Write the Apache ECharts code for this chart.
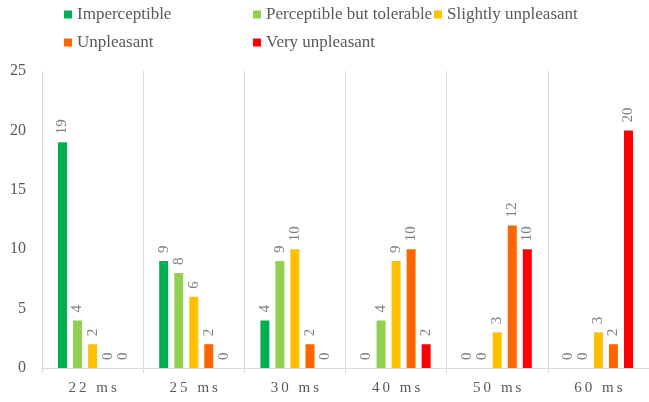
<!DOCTYPE html>
<html>
<head>
<meta charset="utf-8">
<script src="https://cdn.jsdelivr.net/npm/echarts@6/dist/echarts.min.js"></script>
<style>
  html, body { margin: 0; padding: 0; background: #fff; }
  #chart { width: 649px; height: 402px; }
</style>
</head>
<body>
<div id="chart"></div>
<script>
// Delay categories and rating counts per category
const categories = ['22 ms', '25 ms', '30 ms', '40 ms', '50 ms', '60 ms'];
const imperceptible = [19, 9, 4, 0, 0, 0];
const perceptibleTolerable = [4, 8, 9, 4, 0, 0];
const slightlyUnpleasant = [2, 6, 10, 9, 3, 3];
const unpleasant = [0, 2, 2, 10, 12, 2];
const veryUnpleasant = [0, 0, 0, 2, 10, 20];
const yTicks = [0, 5, 10, 15, 20, 25];

const seriesNames = ['Imperceptible', 'Perceptible but tolerable', 'Slightly unpleasant', 'Unpleasant', 'Very unpleasant'];
const seriesData = [imperceptible, perceptibleTolerable, slightlyUnpleasant, unpleasant, veryUnpleasant];
const colors = ['#00b050', '#92d050', '#ffc000', '#ff6600', '#ff0000'];

const FONT = 'Liberation Serif';
const TEXT = '#595959';
const GRIDC = '#d9d9d9';

// one legend entry per component so each can sit at its own spot
const legendSpots = [
  { left: 64, top: 6 },
  { left: 253, top: 6 },
  { left: 434, top: 6 },
  { left: 64, top: 34 },
  { left: 253, top: 34 }
];

const chart = echarts.init(document.getElementById('chart'), null, { renderer: 'canvas' });

chart.setOption({
  animation: false,
  color: colors,
  textStyle: { fontFamily: FONT },
  legend: seriesNames.map((n, i) => ({
    data: [n],
    left: legendSpots[i].left,
    top: legendSpots[i].top,
    icon: 'rect',
    itemWidth: 8,
    itemHeight: 8,
    padding: 0,
    textStyle: { fontFamily: FONT, fontSize: 17, color: TEXT }
  })),
  grid: { left: 42, top: 71, width: 610, bottom: 34, containLabel: false },
  xAxis: {
    type: 'category',
    data: categories,
    boundaryGap: true,
    axisLine: { show: true, lineStyle: { color: GRIDC, width: 1 } },
    axisTick: { show: true, length: 5, lineStyle: { color: GRIDC } },
    splitLine: { show: true, lineStyle: { color: GRIDC, width: 1 } },
    axisLabel: {
      margin: 13,
      color: TEXT,
      fontFamily: FONT,
      fontSize: 15,
      formatter: v => v.split('').join('\u2009')
    }
  },
  yAxis: {
    type: 'value',
    min: yTicks[0],
    max: yTicks[yTicks.length - 1],
    interval: yTicks[1] - yTicks[0],
    axisLine: { show: false },
    axisTick: { show: false },
    splitLine: { show: false },
    axisLabel: { margin: 16, color: TEXT, fontFamily: FONT, fontSize: 16 }
  },
  series: seriesNames.map((n, i) => ({
    name: n,
    type: 'bar',
    data: seriesData[i],
    barWidth: 9,
    barGap: '67%',
    itemStyle: { color: colors[i] },
    label: {
      show: true,
      position: 'top',
      rotate: 90,
      align: 'left',
      verticalAlign: 'middle',
      distance: 8,
      color: '#808080',
      fontFamily: FONT,
      fontSize: 15
    }
  }))
});
</script>
</body>
</html>
